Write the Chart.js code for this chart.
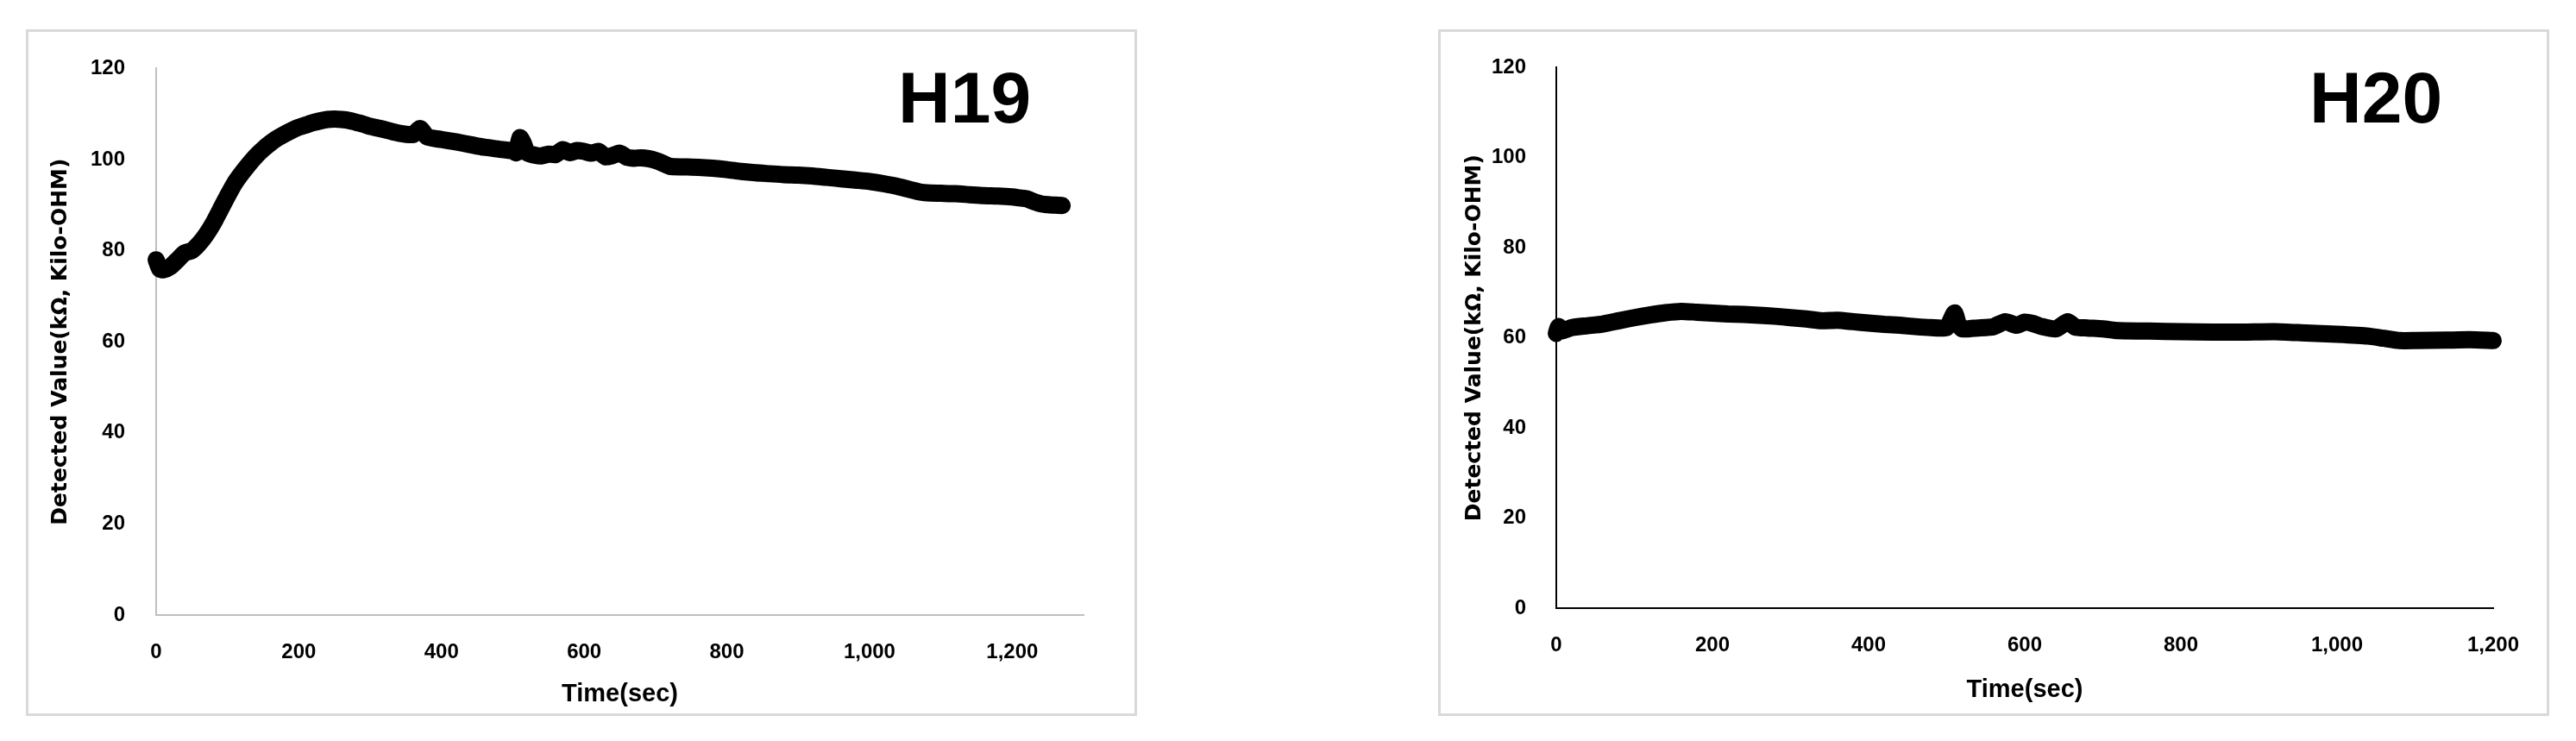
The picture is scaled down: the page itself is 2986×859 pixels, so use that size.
<!DOCTYPE html>
<html>
<head>
<meta charset="utf-8">
<script src="https://cdn.jsdelivr.net/npm/chart.js@4.4.1/dist/chart.umd.min.js"></script>
<style>
  body { margin: 0; width: 2986px; height: 859px; background: #fff; position: relative; overflow: hidden; }
  .panel { position: absolute; top: 34px; width: 1288px; height: 796px; border: 3px solid #d9d9d9; box-sizing: border-box; }
  .panel canvas { position: absolute; left: 0; top: 0; }
  .tag { position: absolute; top: 71px; font-family: 'Liberation Sans', Arial, sans-serif; font-weight: bold; font-size: 84px; line-height: 1; color: #000; }
</style>
</head>
<body>
<div class="panel" style="left:30px"><canvas id="h19" width="1282" height="790"></canvas></div>
<div class="panel" style="left:1667px"><canvas id="h20" width="1282" height="790"></canvas></div>
<div class="tag" style="left:1041px">H19</div>
<div class="tag" style="left:2677px">H20</div>
<script>
// H19 sensor, time in seconds / value in kilo-ohm
const h19Time = [0, 5, 10, 20, 30, 40, 50, 60, 70, 80, 90, 100, 110, 120, 130, 140, 150, 160, 170, 180,
  190, 200, 210, 220, 230, 240, 250, 260, 270, 280, 290, 300, 320, 340, 360, 370, 380, 400, 420, 440,
  460, 480, 500, 505, 510, 515, 520, 530, 540, 550, 560, 570, 580, 590, 600, 610, 620, 630, 640, 650,
  660, 670, 680, 690, 700, 710, 720, 740, 760, 780, 800, 820, 840, 860, 880, 900, 920, 940, 960, 980,
  1000, 1020, 1040, 1060, 1070, 1080, 1100, 1120, 1140, 1160, 1180, 1200, 1210, 1220, 1230, 1240, 1250, 1260, 1270];
const h19Value = [78, 76, 75.8, 76.5, 78, 79.5, 80, 81.5, 83.5, 86, 89, 92, 94.8, 97, 99, 100.8, 102.3, 103.6, 104.7, 105.6,
  106.4, 107.1, 107.6, 108.1, 108.5, 108.8, 108.9, 108.8, 108.6, 108.2, 107.8, 107.3, 106.6, 105.8, 105.5, 106.8, 105, 104.4, 103.9, 103.3,
  102.7, 102.3, 101.9, 101.5, 104.8, 103.5, 101.5, 101, 100.8, 101.2, 101.1, 102.2, 101.5, 102, 101.8, 101.4, 101.8, 100.6, 100.9, 101.4,
  100.5, 100.3, 100.4, 100.2, 99.8, 99.2, 98.5, 98.4, 98.3, 98.1, 97.8, 97.4, 97.1, 96.9, 96.7, 96.6, 96.4, 96.1, 95.8, 95.5,
  95.2, 94.7, 94.1, 93.3, 92.9, 92.7, 92.6, 92.5, 92.3, 92.1, 92, 91.8, 91.6, 91.4, 90.8, 90.3, 90.1, 90, 89.9];

// H20 sensor
const h20Time = [0, 3, 6, 20, 40, 60, 80, 100, 120, 140, 160, 180, 200, 220, 240, 260, 280, 300, 320, 340,
  360, 380, 400, 420, 440, 460, 480, 500, 510, 515, 520, 540, 560, 575, 590, 600, 610, 620, 640, 655,
  665, 680, 700, 720, 760, 800, 840, 880, 920, 960, 1000, 1040, 1060, 1080, 1100, 1140, 1170, 1200];
const h20Value = [61, 62.5, 61.5, 62.3, 62.7, 63.1, 63.8, 64.5, 65.1, 65.6, 65.9, 65.7, 65.5, 65.3, 65.2, 65, 64.8, 64.5, 64.2, 63.8,
  63.9, 63.6, 63.3, 63, 62.8, 62.5, 62.3, 62.3, 65.5, 63, 62, 62.2, 62.5, 63.6, 62.8, 63.5, 63.2, 62.6, 62, 63.6,
  62.4, 62.2, 62, 61.6, 61.5, 61.4, 61.3, 61.3, 61.4, 61.1, 60.8, 60.4, 59.9, 59.4, 59.4, 59.5, 59.6, 59.4];

const yTicks = [0, 20, 40, 60, 80, 100, 120];

Chart.defaults.font.family = "'Liberation Sans', Arial, sans-serif";
Chart.defaults.color = '#000';

function makeChart(id, times, values, xMax, axisColor, box) {
  const points = times.map((t, i) => ({ x: t, y: values[i] }));
  return new Chart(document.getElementById(id), {
    type: 'line',
    data: {
      datasets: [{
        data: points,
        borderColor: '#000',
        borderWidth: 20,
        borderCapStyle: 'round',
        borderJoinStyle: 'round',
        pointRadius: 0,
        tension: 0.2,
        clip: false
      }]
    },
    options: {
      responsive: false,
      devicePixelRatio: 1,
      animation: false,
      layout: { padding: { left: 0, top: box.top, right: box.right, bottom: 0 } },
      plugins: { legend: { display: false }, tooltip: { enabled: false } },
      scales: {
        x: {
          type: 'linear',
          min: 0,
          max: xMax,
          afterFit: (s) => { s.height = box.xHeight; },
          grid: { display: false },
          border: { display: true, color: axisColor, width: 2 },
          ticks: {
            stepSize: 200,
            includeBounds: false,
            padding: 21,
            maxRotation: 0,
            font: { size: 24, weight: 'bold' },
            callback: (v) => v.toLocaleString('en-US')
          },
          title: {
            display: true,
            text: 'Time(sec)',
            font: { size: 29, weight: 'bold' },
            padding: { top: 0, bottom: box.xTitlePad }
          }
        },
        y: {
          min: 0,
          max: 120,
          afterFit: (s) => { s.width = box.yWidth; },
          afterBuildTicks: (s) => { s.ticks = yTicks.map(v => ({ value: v })); },
          grid: { display: false },
          border: { display: true, color: axisColor, width: 2 },
          ticks: {
            padding: box.yTickPad,
            font: { size: 24, weight: 'bold' }
          },
          title: {
            display: true,
            text: 'Detected Value(kΩ, Kilo-OHM)',
            font: { family: "'DejaVu Sans', Verdana, sans-serif", size: 25, weight: 'bold' },
            padding: { top: box.yTitlePad, bottom: 0 }
          }
        }
      }
    }
  });
}

makeChart('h19', h19Time, h19Value, 1300, '#bfbfbf',
  { top: 31, right: 59, xHeight: 114, yWidth: 148, xTitlePad: 5, yTitlePad: 22, yTickPad: 28 });
makeChart('h20', h20Time, h20Value, 1200, '#000',
  { top: 30, right: 62, xHeight: 122, yWidth: 134, xTitlePad: 10, yTitlePad: 24, yTickPad: 27 });
</script>
</body>
</html>
